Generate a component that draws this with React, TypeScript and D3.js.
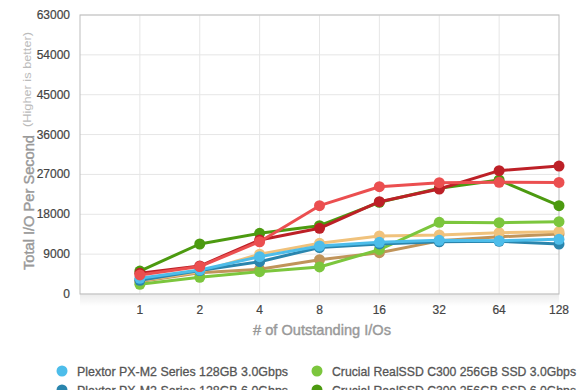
import React, { useEffect, useRef } from 'react';
import * as d3 from 'd3';

const categories = ['1', '2', '4', '8', '16', '32', '64', '128'];
const yTicks = [0, 9000, 18000, 27000, 36000, 45000, 54000, 63000];

const seriesNames = [
  'Plextor PX-M2 Series 128GB 3.0Gbps',
  'Plextor PX-M2 Series 128GB 6.0Gbps',
  'Crucial RealSSD C300 256GB SSD 3.0Gbps',
  'Crucial RealSSD C300 256GB SSD 6.0Gbps',
  'Intel X25-M G2 160GB 3.0Gbps',
  'Intel X25-M G2 160GB 6.0Gbps',
  'OCZ Vertex 2 120GB 3.0Gbps',
  'OCZ Vertex 2 120GB 6.0Gbps',
];
const seriesColors = ['#4dbdea', '#2a85ad', '#7cc63d', '#4c9a10', '#f0c27c', '#c0945a', '#eb4f50', '#bd2027'];

const plexter3 = [3540, 5420, 8430, 10840, 11670, 12120, 12040, 12350];
const plexter6 = [3100, 5300, 7300, 10500, 11300, 11800, 11900, 11290];
const crucial3 = [2190, 3770, 5035, 6100, 10000, 16190, 16100, 16330];
const crucial6 = [5190, 11290, 13700, 15420, 20700, 23870, 25740, 19940];
const tanLight = [3000, 5000, 9000, 11440, 13100, 13320, 13850, 14070];
const tanDark = [2800, 4800, 5570, 7750, 9330, 12000, 12900, 13550];
const redLight = [4300, 6200, 11800, 19940, 24230, 25130, 25220, 25200];
const redDark = [4670, 6320, 12190, 14830, 20840, 23710, 27850, 28900];

const seriesValues = [plexter3, plexter6, crucial3, crucial6, tanLight, tanDark, redLight, redDark];
// back-to-front draw order
const drawOrder = [5, 4, 2, 3, 1, 0, 7, 6];

const W = 580;
const H = 390;
const left = 80;
const right = 559;
const top = 15;
const bottom = 294;

export default function App() {
  const ref = useRef<SVGSVGElement>(null);

  useEffect(() => {
    if (!ref.current) return;
    const svg = d3.select(ref.current);
    svg.selectAll('*').remove();

    const x = d3.scaleLinear().domain([0, categories.length]).range([left, right]);
    const y = d3.scaleLinear().domain([0, 63000]).range([bottom, top]);
    const font = 'Helvetica, Arial, "Liberation Sans", sans-serif';

    const defs = svg.append('defs');
    const grad = defs.append('linearGradient').attr('id', 'shadow').attr('x1', 0).attr('x2', 0).attr('y1', 0).attr('y2', 1);
    grad.append('stop').attr('offset', 0).attr('stop-color', '#000').attr('stop-opacity', 0.08);
    grad.append('stop').attr('offset', 1).attr('stop-color', '#000').attr('stop-opacity', 0);

    // shadow under the x axis
    svg.append('rect')
      .attr('x', left).attr('y', bottom)
      .attr('width', right - left).attr('height', 12)
      .attr('fill', 'url(#shadow)');

    const grid = svg.append('g');
    grid.selectAll('line.h')
      .data(yTicks)
      .join('line')
      .attr('x1', left).attr('x2', right)
      .attr('y1', d => y(d)).attr('y2', d => y(d))
      .attr('stroke', '#e6e6e6');
    grid.selectAll('line.v')
      .data(d3.range(1, categories.length))
      .join('line')
      .attr('class', 'v')
      .attr('x1', d => x(d)).attr('x2', d => x(d))
      .attr('y1', top).attr('y2', bottom)
      .attr('stroke', '#e6e6e6');

    svg.append('rect')
      .attr('x', left).attr('y', top)
      .attr('width', right - left).attr('height', bottom - top)
      .attr('fill', 'none').attr('stroke', '#bdbdbd');

    // y tick labels
    svg.append('g').selectAll('text')
      .data(yTicks)
      .join('text')
      .attr('x', 70).attr('y', d => y(d) + 4)
      .attr('text-anchor', 'end')
      .attr('font-family', font).attr('font-size', 12).attr('fill', '#444')
      .attr('stroke', '#444').attr('stroke-width', 0.2)
      .text(d => d);

    // x tick labels
    svg.append('g').selectAll('text')
      .data(categories)
      .join('text')
      .attr('x', (d, i) => x(i + 1)).attr('y', 314)
      .attr('text-anchor', 'middle')
      .attr('font-family', font).attr('font-size', 12).attr('fill', '#444')
      .attr('stroke', '#444').attr('stroke-width', 0.2)
      .text(d => d);

    svg.append('text')
      .attr('x', 322).attr('y', 335)
      .attr('text-anchor', 'middle')
      .attr('font-family', font).attr('font-size', 14.5).attr('fill', '#999')
      .attr('stroke', '#999').attr('stroke-width', 0.4)
      .attr('textLength', 138).attr('lengthAdjust', 'spacingAndGlyphs')
      .text('# of Outstanding I/Os');

    // y title (rotated), main part then the smaller note
    svg.append('text')
      .attr('transform', 'translate(34,270) rotate(-90)')
      .attr('font-family', font).attr('font-size', 15).attr('fill', '#999')
      .attr('stroke', '#999').attr('stroke-width', 0.4)
      .attr('textLength', 135).attr('lengthAdjust', 'spacingAndGlyphs')
      .text('Total I/O Per Second');
    svg.append('text')
      .attr('transform', 'translate(31,127) rotate(-90)')
      .attr('font-family', font).attr('font-size', 11.5).attr('fill', '#bbb')
      .attr('textLength', 95).attr('lengthAdjust', 'spacingAndGlyphs')
      .text('(Higher is better)');

    const line = d3.line<number>()
      .x((d, i) => x(i + 1))
      .y(d => y(d));

    drawOrder.forEach(si => {
      const g = svg.append('g');
      g.append('path')
        .datum(seriesValues[si])
        .attr('d', line)
        .attr('fill', 'none')
        .attr('stroke', seriesColors[si])
        .attr('stroke-width', 3)
        .attr('stroke-linejoin', 'round');
      g.selectAll('circle')
        .data(seriesValues[si])
        .join('circle')
        .attr('cx', (d, i) => x(i + 1))
        .attr('cy', d => y(d))
        .attr('r', 5.5)
        .attr('fill', seriesColors[si]);
    });

    // legend: two columns, Plextor/Intel left, Crucial/OCZ right
    const colX = [62, 317];
    const colWidth = [211, 244];
    const legend = svg.append('g');
    seriesNames.forEach((name, i) => {
      const pairIdx = Math.floor(i / 2);
      const col = pairIdx % 2;
      const row = Math.floor(pairIdx / 2) * 2 + (i % 2);
      const yy = 371 + row * 19;
      legend.append('circle')
        .attr('cx', colX[col]).attr('cy', yy).attr('r', 5.5)
        .attr('fill', seriesColors[i]);
      const t = legend.append('text')
        .attr('x', colX[col] + 15).attr('y', yy + 4.5)
        .attr('font-family', font).attr('font-size', 13).attr('fill', '#555')
        .attr('stroke', '#555').attr('stroke-width', 0.3)
        .text(name);
      if (row < 2) t.attr('textLength', colWidth[col]).attr('lengthAdjust', 'spacingAndGlyphs');
    });
  }, []);

  return <svg ref={ref} width={W} height={H} style={{ position: 'absolute', left: 0, top: 0 }} />;
}
